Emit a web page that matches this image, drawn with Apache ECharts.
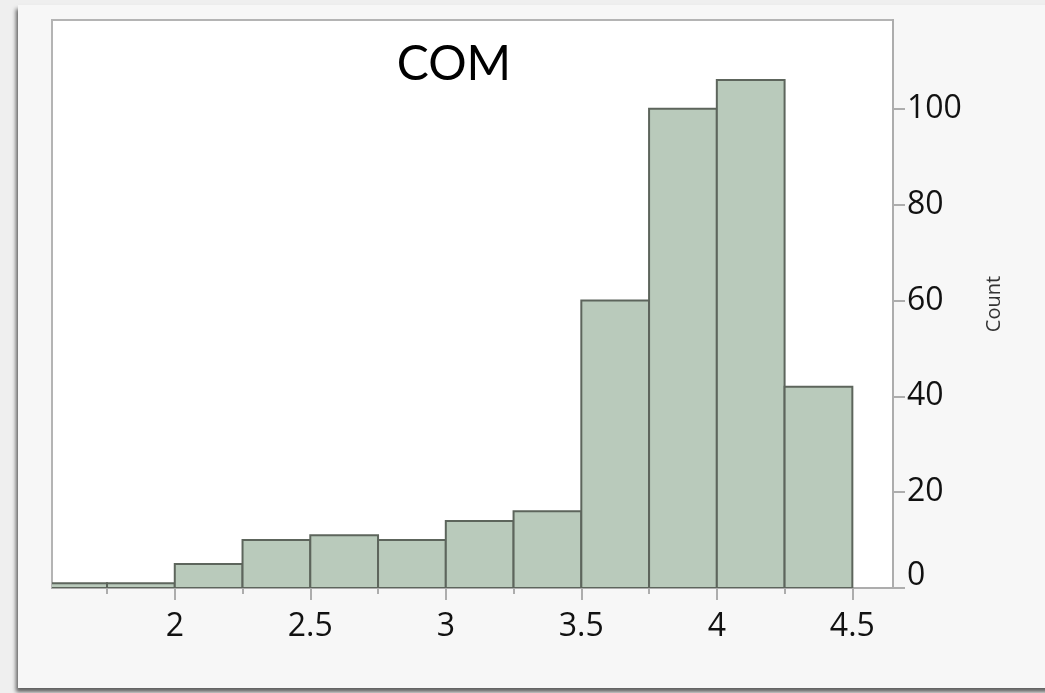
<!DOCTYPE html>
<html>
<head>
<meta charset="utf-8">
<script src="https://cdn.jsdelivr.net/npm/echarts@6.0.0/dist/echarts.min.js"></script>
<style>
  html, body { margin: 0; padding: 0; background: #efefef; }
  #panel {
    position: absolute; left: 18px; top: 5px; width: 1040px; height: 683px;
    background: #f7f7f7; box-shadow: -2px 4px 4px rgba(0, 0, 0, 0.6);
  }
  #chart { position: absolute; left: 0; top: 0; width: 1045px; height: 693px; }
</style>
</head>
<body>
<div id="panel"></div>
<div id="chart"></div>
<script>
// histogram bins (COM), width 0.25
const binEdges = [1.5, 1.75, 2, 2.25, 2.5, 2.75, 3, 3.25, 3.5, 3.75, 4, 4.25, 4.5]
const counts = [1, 1, 5, 10, 11, 10, 14, 16, 60, 100, 106, 42]
const xTickLabels = [2, 2.5, 3, 3.5, 4, 4.5]
const xMinorTicks = [1.75, 2.25, 2.75, 3.25, 3.75, 4.25]
const yTickLabels = [0, 20, 40, 60, 80, 100]

const X_MIN = 1.547
const X_MAX = 4.65
const Y_MAX = 118.5

const labelFont = '"Open Sans", "Noto Sans", sans-serif'
const axisGray = '#adadad'

const data = counts.map((c, i) => [binEdges[i], binEdges[i + 1], c])

const chart = echarts.init(document.getElementById('chart'), null, { renderer: 'canvas' })

const option = {
  animation: false,
  backgroundColor: 'transparent',
  title: {
    text: 'COM',
    left: 449,
    top: 36,
    textAlign: 'center',
    textStyle: { fontFamily: 'Lato, sans-serif', fontSize: 48, fontWeight: 'normal', color: '#000' }
  },
  grid: {
    left: 52, right: 152, top: 20, bottom: 105,
    show: true,
    backgroundColor: '#ffffff',
    borderColor: '#b4b4b4',
    borderWidth: 2
  },
  xAxis: [
    {
      type: 'value',
      min: X_MIN,
      max: X_MAX,
      splitLine: { show: false },
      axisLine: { show: true, lineStyle: { color: axisGray, width: 2 } },
      axisTick: { show: true, length: 12, customValues: xTickLabels, lineStyle: { color: axisGray, width: 2 } },
      axisLabel: {
        customValues: xTickLabels,
        margin: 23,
        fontFamily: labelFont,
        fontSize: 32,
        color: '#111'
      }
    },
    {
      type: 'value',
      min: X_MIN,
      max: X_MAX,
      position: 'bottom',
      splitLine: { show: false },
      axisLine: { show: false },
      axisTick: { show: true, length: 6, customValues: xMinorTicks, lineStyle: { color: axisGray, width: 2 } },
      axisLabel: { show: false }
    }
  ],
  yAxis: {
    type: 'value',
    position: 'right',
    min: 0,
    max: Y_MAX,
    splitLine: { show: false },
    axisLine: { show: true, lineStyle: { color: axisGray, width: 2 } },
    axisTick: { show: true, length: 12, customValues: yTickLabels, lineStyle: { color: axisGray, width: 2 } },
    axisLabel: {
      customValues: yTickLabels,
      margin: 14,
      fontFamily: labelFont,
      fontSize: 32,
      color: '#111',
      formatter: v => v === 0 ? '{z|0}' : String(v),
      rich: {
        z: { fontFamily: labelFont, fontSize: 32, color: '#111', padding: [0, 0, 24, 0] }
      }
    },
    name: 'Count',
    nameLocation: 'middle',
    nameRotate: 90,
    nameGap: 91,
    nameTextStyle: { fontFamily: labelFont, fontSize: 20, color: '#333' }
  },
  series: [
    {
      type: 'custom',
      clip: true,
      xAxisIndex: 0,
      encode: { x: [0, 1], y: 2 },
      data: data,
      renderItem: (params, api) => {
        const top = api.coord([api.value(0), api.value(2)])
        const bottom = api.coord([api.value(1), 0])
        return {
          type: 'rect',
          shape: { x: top[0], y: top[1], width: bottom[0] - top[0], height: bottom[1] - top[1] },
          style: { fill: '#b9cabb', stroke: '#5d655c', lineWidth: 2 }
        }
      }
    }
  ]
}

chart.setOption(option)
</script>
</body>
</html>
